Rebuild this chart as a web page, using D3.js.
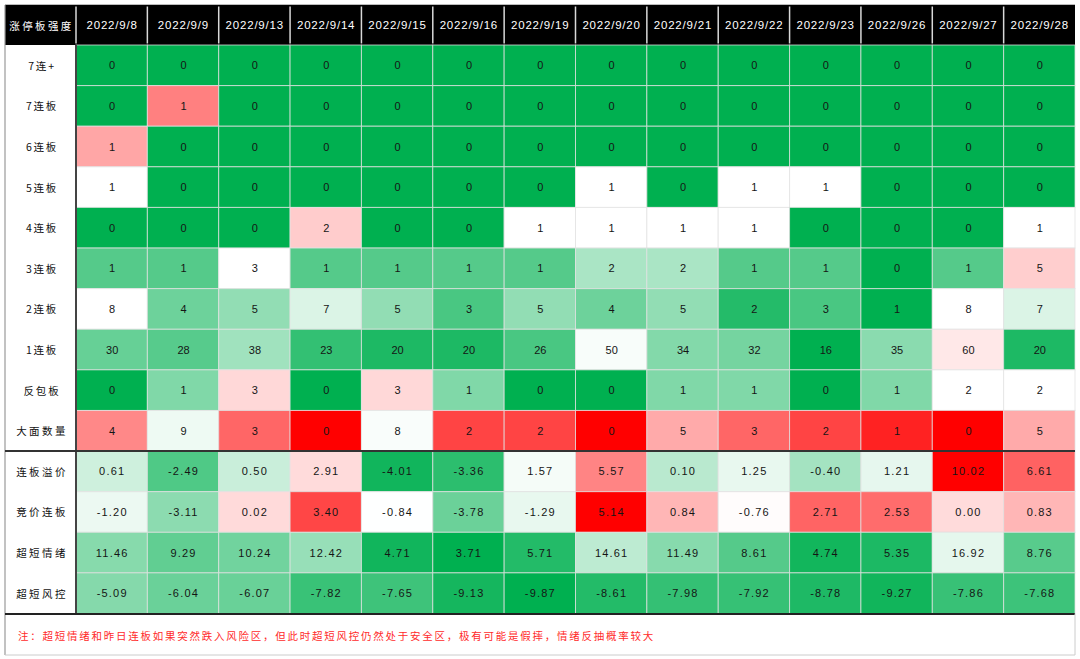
<!DOCTYPE html>
<html><head><meta charset="utf-8">
<script src="https://cdn.jsdelivr.net/npm/d3@7"></script>
<style>
html,body{margin:0;padding:0;background:#fff;}
svg{display:block;}
</style></head>
<body>
<svg id="chart" width="1080" height="659"></svg>
<script>
// ---------- DATA ----------
const headerTitle = "涨停板强度";
const dates = ["2022/9/8","2022/9/9","2022/9/13","2022/9/14","2022/9/15","2022/9/16","2022/9/19","2022/9/20","2022/9/21","2022/9/22","2022/9/23","2022/9/26","2022/9/27","2022/9/28"];
const rowLabels = ["7连+","7连板","6连板","5连板","4连板","3连板","2连板","1连板","反包板","大面数量","连板溢价","竞价连板","超短情绪","超短风控"];

const lb7plus  = [0,0,0,0,0,0,0,0,0,0,0,0,0,0];
const lb7      = [0,1,0,0,0,0,0,0,0,0,0,0,0,0];
const lb6      = [1,0,0,0,0,0,0,0,0,0,0,0,0,0];
const lb5      = [1,0,0,0,0,0,0,1,0,1,1,0,0,0];
const lb4      = [0,0,0,2,0,0,1,1,1,1,0,0,0,1];
const lb3      = [1,1,3,1,1,1,1,2,2,1,1,0,1,5];
const lb2      = [8,4,5,7,5,3,5,4,5,2,3,1,8,7];
const lb1      = [30,28,38,23,20,20,26,50,34,32,16,35,60,20];
const fanbao   = [0,1,3,0,3,1,0,0,1,1,0,1,2,2];
const damian   = [4,9,3,0,8,2,2,0,5,3,2,1,0,5];
const premium  = [0.61,-2.49,0.50,2.91,-4.01,-3.36,1.57,5.57,0.10,1.25,-0.40,1.21,10.02,6.61];
const auction  = [-1.20,-3.11,0.02,3.40,-0.84,-3.78,-1.29,5.14,0.84,-0.76,2.71,2.53,0.00,0.83];
const mood     = [11.46,9.29,10.24,12.42,4.71,3.71,5.71,14.61,11.49,8.61,4.74,5.35,16.92,8.76];
const risk     = [-5.09,-6.04,-6.07,-7.82,-7.65,-9.13,-9.87,-8.61,-7.98,-7.92,-8.78,-9.27,-7.86,-7.68];

const rowValues = [lb7plus,lb7,lb6,lb5,lb4,lb3,lb2,lb1,fanbao,damian,premium,auction,mood,risk];
const decimalRows = ["连板溢价","竞价连板","超短情绪","超短风控"];

// colour-scale anchors per row: [green, white, red] (conditional formatting)
const rowColorDomains = [
  [0,1,2],[0,0.5,1.5],[0,0.6,1.75],[0,1,3],[0,1,6],[0,3,13.5],[1,8,20],
  [16,51,150],[0,2,8.5],[30,7.5,0],[-4.43,1.82,9.6],[-5.9,-0.83,5.0],
  [3.71,18.4,40],[-9.87,-0.68,10]
];
const footnote = "注：超短情绪和昨日连板如果突然跌入风险区，但此时超短风控仍然处于安全区，极有可能是假摔，情绪反抽概率较大";

// ---------- LAYOUT ----------
const svg = d3.select("#chart");
const L = 5, labelR = 76, R = 1075;
const headTop = 5, headBot = 45, tableBot = 613.5, footBot = 655;

const x = d3.scaleBand().domain(dates).range([labelR, R]).padding(0);
const y = d3.scaleBand().domain(rowLabels).range([headBot, tableBot]).padding(0);

const GREEN = "#00B050", WHITE = "#FFFFFF", RED = "#FF0000";
const colorScales = rowColorDomains.map(d =>
  d3.scaleLinear().domain(d).range([GREEN, WHITE, RED]).clamp(true));

const cjk = "'Noto Sans CJK SC', 'Noto Sans', sans-serif";
const num = "'Liberation Sans', Arial, sans-serif";

// header
svg.append("rect").attr("x", L).attr("y", headTop).attr("width", R - L).attr("height", headBot - headTop).attr("fill", "#000");
svg.append("text").attr("x", (L + labelR) / 2 + 1).attr("y", (headTop + headBot) / 2)
  .attr("text-anchor", "middle").attr("dominant-baseline", "central")
  .attr("fill", "#fff").attr("font-family", cjk).attr("font-size", 10.5)
  .attr("letter-spacing", 2.4).text(headerTitle);

svg.append("g").selectAll("text").data(dates).join("text")
  .attr("x", d => x(d) + x.bandwidth() / 2 + 0.4)
  .attr("y", (headTop + headBot) / 2)
  .attr("text-anchor", "middle").attr("dominant-baseline", "central")
  .attr("fill", "#fff").attr("font-family", num).attr("font-size", 11.5)
  .attr("letter-spacing", 0.8).text(d => d);

svg.append("g").selectAll("line").data(dates).join("line")
  .attr("x1", d => x(d)).attr("x2", d => x(d))
  .attr("y1", headTop + 1.5).attr("y2", headBot - 1.5)
  .attr("stroke", "#d8d8d8").attr("stroke-width", 1.5);

// row labels
svg.append("g").selectAll("text").data(rowLabels).join("text")
  .attr("x", (L + labelR) / 2 + 1.5)
  .attr("y", d => y(d) + y.bandwidth() / 2)
  .attr("text-anchor", "middle").attr("dominant-baseline", "central")
  .attr("fill", "#111").attr("font-family", cjk).attr("font-size", 10.5)
  .attr("letter-spacing", d => d.length > 3 ? 2.4 : 1.8).text(d => d);

// cells
const cells = [];
rowLabels.forEach((r, i) => rowValues[i].forEach((v, j) =>
  cells.push({row: r, ri: i, date: dates[j], v})));

const g = svg.append("g");
g.selectAll("rect").data(cells).join("rect")
  .attr("x", d => x(d.date)).attr("y", d => y(d.row))
  .attr("width", x.bandwidth()).attr("height", y.bandwidth())
  .attr("fill", d => colorScales[d.ri](d.v))
  .attr("stroke", "rgba(225,225,225,0.75)").attr("stroke-width", 1);

g.selectAll("text").data(cells).join("text")
  .attr("x", d => x(d.date) + x.bandwidth() / 2 + 0.5)
  .attr("y", d => y(d.row) + y.bandwidth() / 2)
  .attr("text-anchor", "middle").attr("dominant-baseline", "central")
  .attr("fill", "#151515").attr("font-family", num)
  .attr("font-size", 11)
  .attr("letter-spacing", d => decimalRows.includes(d.row) ? 1.2 : 0)
  .text(d => decimalRows.includes(d.row) ? d.v.toFixed(2) : d.v);

// borders
svg.append("line").attr("x1", L).attr("x2", R).attr("y1", headTop - 0.5).attr("y2", headTop - 0.5)
  .attr("stroke", "#bbb").attr("stroke-width", 1);
svg.append("line").attr("x1", L).attr("x2", L).attr("y1", headTop).attr("y2", footBot)
  .attr("stroke", "#999").attr("stroke-width", 1.2);
svg.append("line").attr("x1", labelR).attr("x2", labelR).attr("y1", headBot).attr("y2", tableBot)
  .attr("stroke", "#444").attr("stroke-width", 2);
svg.append("line").attr("x1", L).attr("x2", R)
  .attr("y1", y("连板溢价")).attr("y2", y("连板溢价"))
  .attr("stroke", "#333").attr("stroke-width", 2);
svg.append("line").attr("x1", L).attr("x2", R).attr("y1", tableBot + 0.5).attr("y2", tableBot + 0.5)
  .attr("stroke", "#222").attr("stroke-width", 2);
svg.append("line").attr("x1", R).attr("x2", R).attr("y1", tableBot).attr("y2", footBot)
  .attr("stroke", "#ccc").attr("stroke-width", 1);
svg.append("line").attr("x1", L).attr("x2", R).attr("y1", footBot).attr("y2", footBot)
  .attr("stroke", "#ccc").attr("stroke-width", 1);

// footnote
svg.append("text").attr("x", 18).attr("y", (tableBot + footBot) / 2 + 1)
  .attr("dominant-baseline", "central")
  .attr("fill", "#ff2b2b").attr("font-family", cjk).attr("font-size", 10.5)
  .attr("letter-spacing", 1.75).text(footnote);
</script>
</body></html>
